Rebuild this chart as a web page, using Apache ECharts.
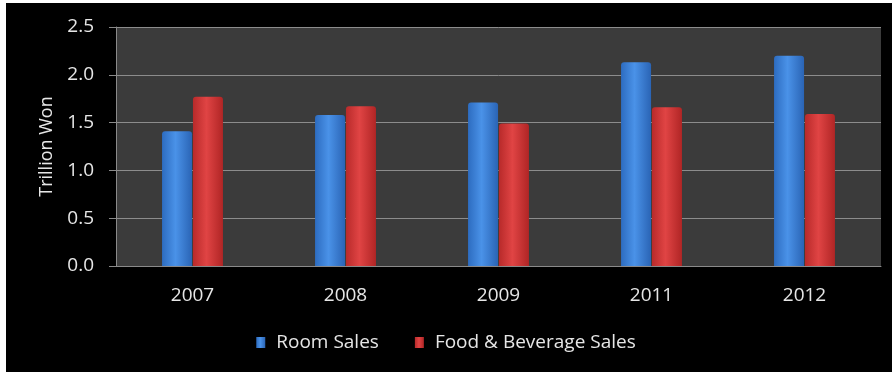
<!DOCTYPE html>
<html>
<head>
<meta charset="utf-8">
<script src="https://cdn.jsdelivr.net/npm/echarts@6/dist/echarts.min.js"></script>
<style>
html,body{margin:0;padding:0;background:#ffffff;}
#frame{position:absolute;left:6px;top:3px;width:886px;height:369px;background:#000;}
#chart{position:absolute;left:0;top:0;width:892px;height:372px;}
</style>
</head>
<body>
<div id="frame"></div>
<div id="chart"></div>
<script>
const categories = ['2007', '2008', '2009', '2011', '2012'];
const roomSales = [1.41, 1.58, 1.71, 2.13, 2.20];
const foodBeverageSales = [1.77, 1.67, 1.49, 1.66, 1.59];
const seriesNames = ['Room Sales', 'Food & Beverage Sales'];
const yTicks = { min: 0, max: 2.5, interval: 0.5 };
const axisTitle = 'Trillion Won';

const chart = echarts.init(document.getElementById('chart'), null, { renderer: 'canvas' });
const font = '"Open Sans", Lato, sans-serif';
function grad(c1, c2, c3) {
  return new echarts.graphic.LinearGradient(0, 0, 1, 0, [
    { offset: 0, color: c1 }, { offset: 0.45, color: c2 }, { offset: 1, color: c3 }
  ]);
}
chart.setOption({
  backgroundColor: 'transparent',
  animation: false,
  textStyle: { fontFamily: font },
  grid: { left: 116, right: 11, top: 27, bottom: 106, containLabel: false,
          show: true, backgroundColor: '#3b3b3b', borderWidth: 0 },
  legend: {
    data: seriesNames,
    bottom: 15,
    left: 'center',
    itemWidth: 9, itemHeight: 11, itemGap: 36,
    textStyle: { color: '#e6e6e6', fontSize: 19, fontFamily: font, padding: [0, 0, 0, 6] },
    icon: 'rect'
  },
  xAxis: {
    type: 'category',
    data: categories,
    axisLine: { show: true, lineStyle: { color: '#8a8a8a', width: 1 } },
    axisTick: { show: false },
    axisLabel: { color: '#e6e6e6', fontSize: 19, margin: 20, fontFamily: font }
  },
  yAxis: {
    type: 'value',
    min: yTicks.min, max: yTicks.max, interval: yTicks.interval,
    name: axisTitle,
    nameLocation: 'middle',
    nameGap: 60,
    nameRotate: 90,
    nameTextStyle: { color: '#e6e6e6', fontSize: 18, fontFamily: font },
    axisLine: { show: true, lineStyle: { color: '#8a8a8a' } },
    axisTick: { show: true, length: 7, lineStyle: { color: '#8a8a8a' } },
    axisLabel: { color: '#e6e6e6', fontSize: 19, margin: 22, fontFamily: font,
                 formatter: v => v.toFixed(1) },
    splitLine: { show: true, lineStyle: { color: '#8c8c8c', width: 1 } }
  },
  series: [
    {
      name: seriesNames[0], type: 'bar', data: roomSales,
      barWidth: 30, barGap: '3%',
      itemStyle: { color: grad('#2d6cc0', '#4a92e8', '#2a64b5'), borderRadius: [3, 3, 0, 0] }
    },
    {
      name: seriesNames[1], type: 'bar', data: foodBeverageSales,
      barWidth: 30, barGap: '3%',
      itemStyle: { color: grad('#b82a2a', '#e04444', '#b02525'), borderRadius: [3, 3, 0, 0] }
    }
  ]
});
</script>
</body>
</html>
